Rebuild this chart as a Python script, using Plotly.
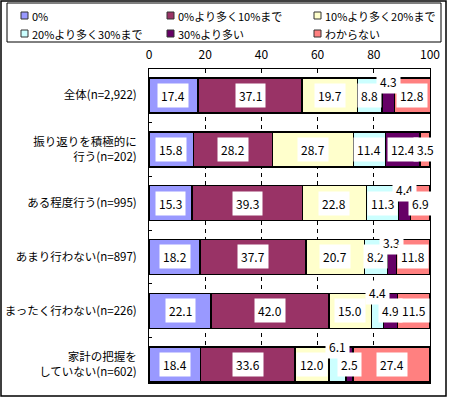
import plotly.graph_objects as go

categories = [
    "全体(n=2,922)",
    "振り返りを積極的に<br>行う(n=202)",
    "ある程度行う(n=995)",
    "あまり行わない(n=897)",
    "まったく行わない(n=226)",
    "家計の把握を<br>していない(n=602)",
]
series_names = [
    "0%",
    "0%より多く10%まで",
    "10%より多く20%まで",
    "20%より多く30%まで",
    "30%より多い",
    "わからない",
]
v_0 = [17.4, 15.8, 15.3, 18.2, 22.1, 18.4]
v_0_10 = [37.1, 28.2, 39.3, 37.7, 42.0, 33.6]
v_10_20 = [19.7, 28.7, 22.8, 20.7, 15.0, 12.0]
v_20_30 = [8.8, 11.4, 11.3, 8.2, 4.4, 6.1]
v_30 = [4.3, 12.4, 4.4, 3.3, 4.9, 2.5]
v_unknown = [12.8, 3.5, 6.9, 11.8, 11.5, 27.4]
x_ticks = [0, 20, 40, 60, 80, 100]

series_values = [v_0, v_0_10, v_10_20, v_20_30, v_30, v_unknown]
colors = ["#9999FF", "#993366", "#FFFFCC", "#CCFFFF", "#660066", "#FF8080"]

# labels lifted above their (narrow) segment: (row, series) -> pixel shift
label_lift = {(0, 4): 14, (2, 4): 14, (3, 4): 14, (4, 3): 18, (5, 3): 18}

FONT = "Noto Sans CJK JP"

fig = go.Figure()
for name, vals, col in zip(series_names, series_values, colors):
    fig.add_trace(go.Bar(
        y=categories, x=vals, name=name, orientation="h",
        marker=dict(color=col, line=dict(color="black", width=1.5)),
        hoverinfo="skip", showlegend=False,
    ))

annotations = []
for r, cat in enumerate(categories):
    cum = 0.0
    for s, vals in enumerate(series_values):
        v = vals[r]
        annotations.append(dict(
            x=cum + v / 2, y=cat, xref="x", yref="y",
            text=f"{v:.1f}", showarrow=False,
            font=dict(family=FONT, size=12, color="black"),
            bgcolor="white", borderpad=3,
            yshift=label_lift.get((r, s), 0),
        ))
        cum += v

# plot area: x 149..430 px, y 69..383 px
def px_x(p):
    return (p - 149) / 281.0

def px_y(p):
    return (383 - p) / 314.0

shapes = [
    dict(type="rect", xref="paper", yref="paper",
         x0=px_x(1), x1=px_x(446), y0=px_y(396), y1=px_y(1),
         line=dict(color="black", width=1.5), fillcolor="rgba(0,0,0,0)", layer="above"),
    dict(type="rect", xref="paper", yref="paper",
         x0=px_x(7), x1=px_x(441), y0=px_y(42), y1=px_y(3),
         line=dict(color="black", width=1), fillcolor="rgba(0,0,0,0)", layer="above"),
]

# legend (3 columns x 2 rows) drawn as swatches + text
legend_col_px = [21, 167, 314]
legend_row_px = [15.5, 33.5]
for i, (name, col) in enumerate(zip(series_names, colors)):
    cx = legend_col_px[i % 3]
    cy = legend_row_px[i // 3]
    shapes.append(dict(
        type="rect", xref="paper", yref="paper",
        x0=px_x(cx), x1=px_x(cx + 7), y0=px_y(cy + 3.5), y1=px_y(cy - 3.5),
        line=dict(color="#333333", width=1), fillcolor=col, layer="above",
    ))
    annotations.append(dict(
        x=px_x(cx + 9), y=px_y(cy), xref="paper", yref="paper",
        text=name, showarrow=False, xanchor="left", yanchor="middle",
        font=dict(family=FONT, size=11, color="black"),
    ))

fig.update_layout(
    barmode="stack",
    bargap=0.35,
    width=450, height=398,
    margin=dict(l=149, r=20, t=69, b=15, autoexpand=False),
    paper_bgcolor="white", plot_bgcolor="white",
    font=dict(family=FONT, size=12, color="black"),
    showlegend=False,
    xaxis=dict(
        side="top", range=[0, 100], tickvals=x_ticks,
        ticktext=[str(t) for t in x_ticks],
        showgrid=True, gridcolor="black", gridwidth=1, griddash="4px,4px",
        showline=True, linecolor="black", linewidth=1, mirror=True,
        zeroline=False, ticks="", ticklabelstandoff=4,
        tickfont=dict(family=FONT, size=12, color="black"),
        fixedrange=True,
    ),
    yaxis=dict(
        type="category", categoryorder="array", categoryarray=categories,
        range=[5.34, -0.49],
        showline=True, linecolor="black", linewidth=1, mirror=True,
        ticks="inside", tickson="boundaries", ticklen=3, tickcolor="black",
        showgrid=False, zeroline=False, ticklabelstandoff=9,
        tickfont=dict(family=FONT, size=11.5, color="black"),
        fixedrange=True,
    ),
    annotations=annotations,
    shapes=shapes,
)

fig.write_html(
    "out.html",
    config={"displayModeBar": False},
    post_script="document.body.style.margin='0';",
)
